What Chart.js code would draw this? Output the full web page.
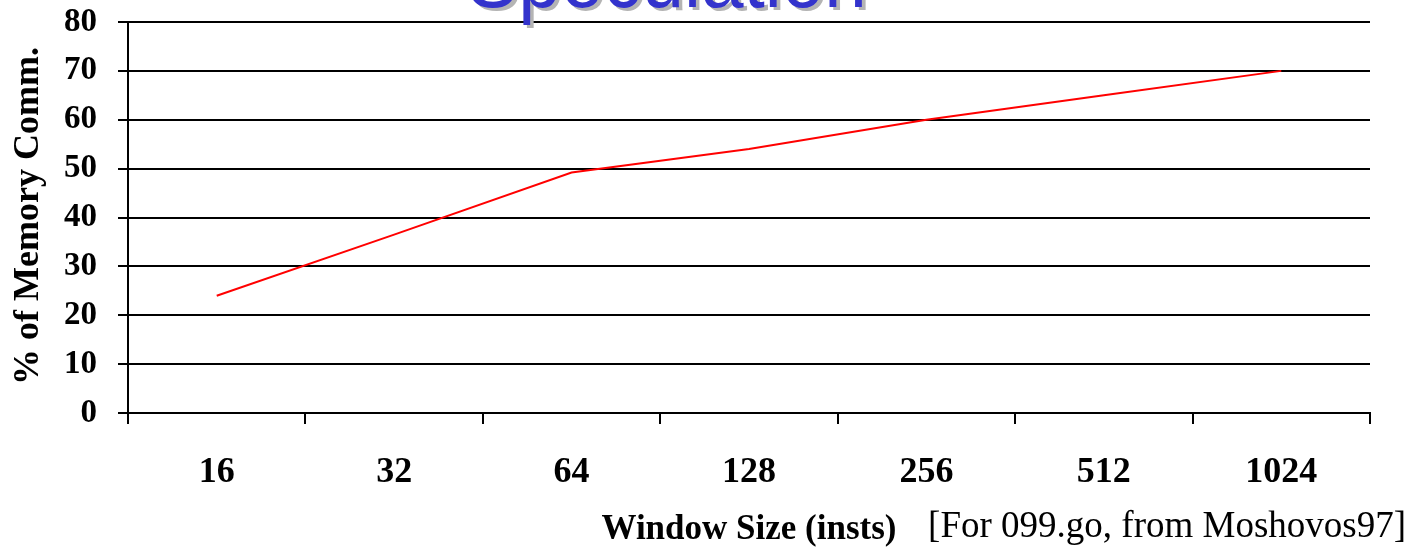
<!DOCTYPE html>
<html>
<head>
<meta charset="utf-8">
<script src="https://cdn.jsdelivr.net/npm/chart.js@4.4.1/dist/chart.umd.min.js"></script>
<style>
  html, body { margin: 0; padding: 0; background: #fff; }
  #wrap { width: 1412px; height: 550px; position: relative; }
</style>
</head>
<body>
<div id="wrap"><canvas id="c" width="1412" height="550"></canvas></div>
<script>
// Window sizes (instructions) and share of memory communication
const windowSizes = ['16', '32', '64', '128', '256', '512', '1024'];
const memoryCommPct = [24, 36.5, 49.2, 54, 60, 65, 70];
const yTicks = [0, 10, 20, 30, 40, 50, 60, 70, 80];

const pageTitle = 'Speculation';
const yTitle = '% of Memory Comm.';
const xTitle = 'Window Size (insts)';
const sourceNote = '[For 099.go, from Moshovos97]';

const SERIF = '"Liberation Serif", "Times New Roman", serif';

const textPlugin = {
  id: 'textPlugin',
  afterDraw(chart) {
    const ctx = chart.ctx;
    const area = chart.chartArea;

    // slide title, mostly above the visible region
    ctx.save();
    ctx.font = '85px "Liberation Sans", Arial, sans-serif';
    ctx.textAlign = 'center';
    ctx.textBaseline = 'alphabetic';
    ctx.translate(667, 7);
    ctx.scale(0.9, 1);
    ctx.fillStyle = '#b4b4b4';
    ctx.fillText(pageTitle, 4, 3);
    ctx.fillStyle = '#3333cc';
    ctx.fillText(pageTitle, 0, 0);
    ctx.restore();

    // y axis title
    ctx.save();
    ctx.font = 'bold 36px ' + SERIF;
    ctx.fillStyle = '#000';
    ctx.textAlign = 'center';
    ctx.textBaseline = 'middle';
    ctx.translate(29, 216);
    ctx.rotate(-Math.PI / 2);
    ctx.fillText(yTitle, 0, 0);
    ctx.restore();

    // x axis title and source note
    ctx.save();
    ctx.fillStyle = '#000';
    ctx.textBaseline = 'middle';
    ctx.textAlign = 'center';
    ctx.font = 'bold 35px ' + SERIF;
    ctx.fillText(xTitle, (area.left + area.right) / 2, 530);
    ctx.textAlign = 'right';
    ctx.font = '37px ' + SERIF;
    ctx.fillText(sourceNote, 1406, 527);
    ctx.restore();
  }
};

new Chart(document.getElementById('c'), {
  type: 'line',
  data: {
    labels: windowSizes,
    datasets: [{
      data: memoryCommPct,
      borderColor: '#ff0000',
      borderWidth: 2,
      pointRadius: 0,
      tension: 0,
      fill: false
    }]
  },
  options: {
    responsive: false,
    animation: false,
    layout: { padding: { top: 22, right: 42, left: 0, bottom: 0 } },
    plugins: {
      legend: { display: false },
      tooltip: { enabled: false },
      title: { display: false }
    },
    scales: {
      x: {
        offset: true,
        afterFit(scale) {
          scale.height = 137;
          scale.paddingLeft = 0;
          scale.paddingRight = 0;
        },
        grid: {
          offset: true,
          drawOnChartArea: true,
          color: (c) => (c.index === windowSizes.length ? '#000' : 'rgba(0,0,0,0)'),
          tickColor: '#000',
          tickLength: 11,
          lineWidth: 2
        },
        border: { display: true, color: '#000', width: 2 },
        ticks: {
          color: '#000',
          font: { family: SERIF, size: 36, weight: 'bold' },
          padding: 27,
          maxRotation: 0,
          autoSkip: false
        }
      },
      y: {
        min: 0,
        max: 80,
        afterFit(scale) {
          scale.width = 128;
          scale.paddingTop = 0;
          scale.paddingBottom = 0;
        },
        afterBuildTicks(scale) { scale.ticks = yTicks.map(v => ({ value: v })); },
        grid: {
          color: '#000',
          tickColor: '#000',
          tickLength: 10,
          lineWidth: 2
        },
        border: { display: true, color: '#000', width: 2 },
        ticks: {
          color: '#000',
          font: { family: SERIF, size: 33, weight: 'bold' },
          padding: 21
        }
      }
    }
  },
  plugins: [textPlugin]
});
</script>
</body>
</html>
